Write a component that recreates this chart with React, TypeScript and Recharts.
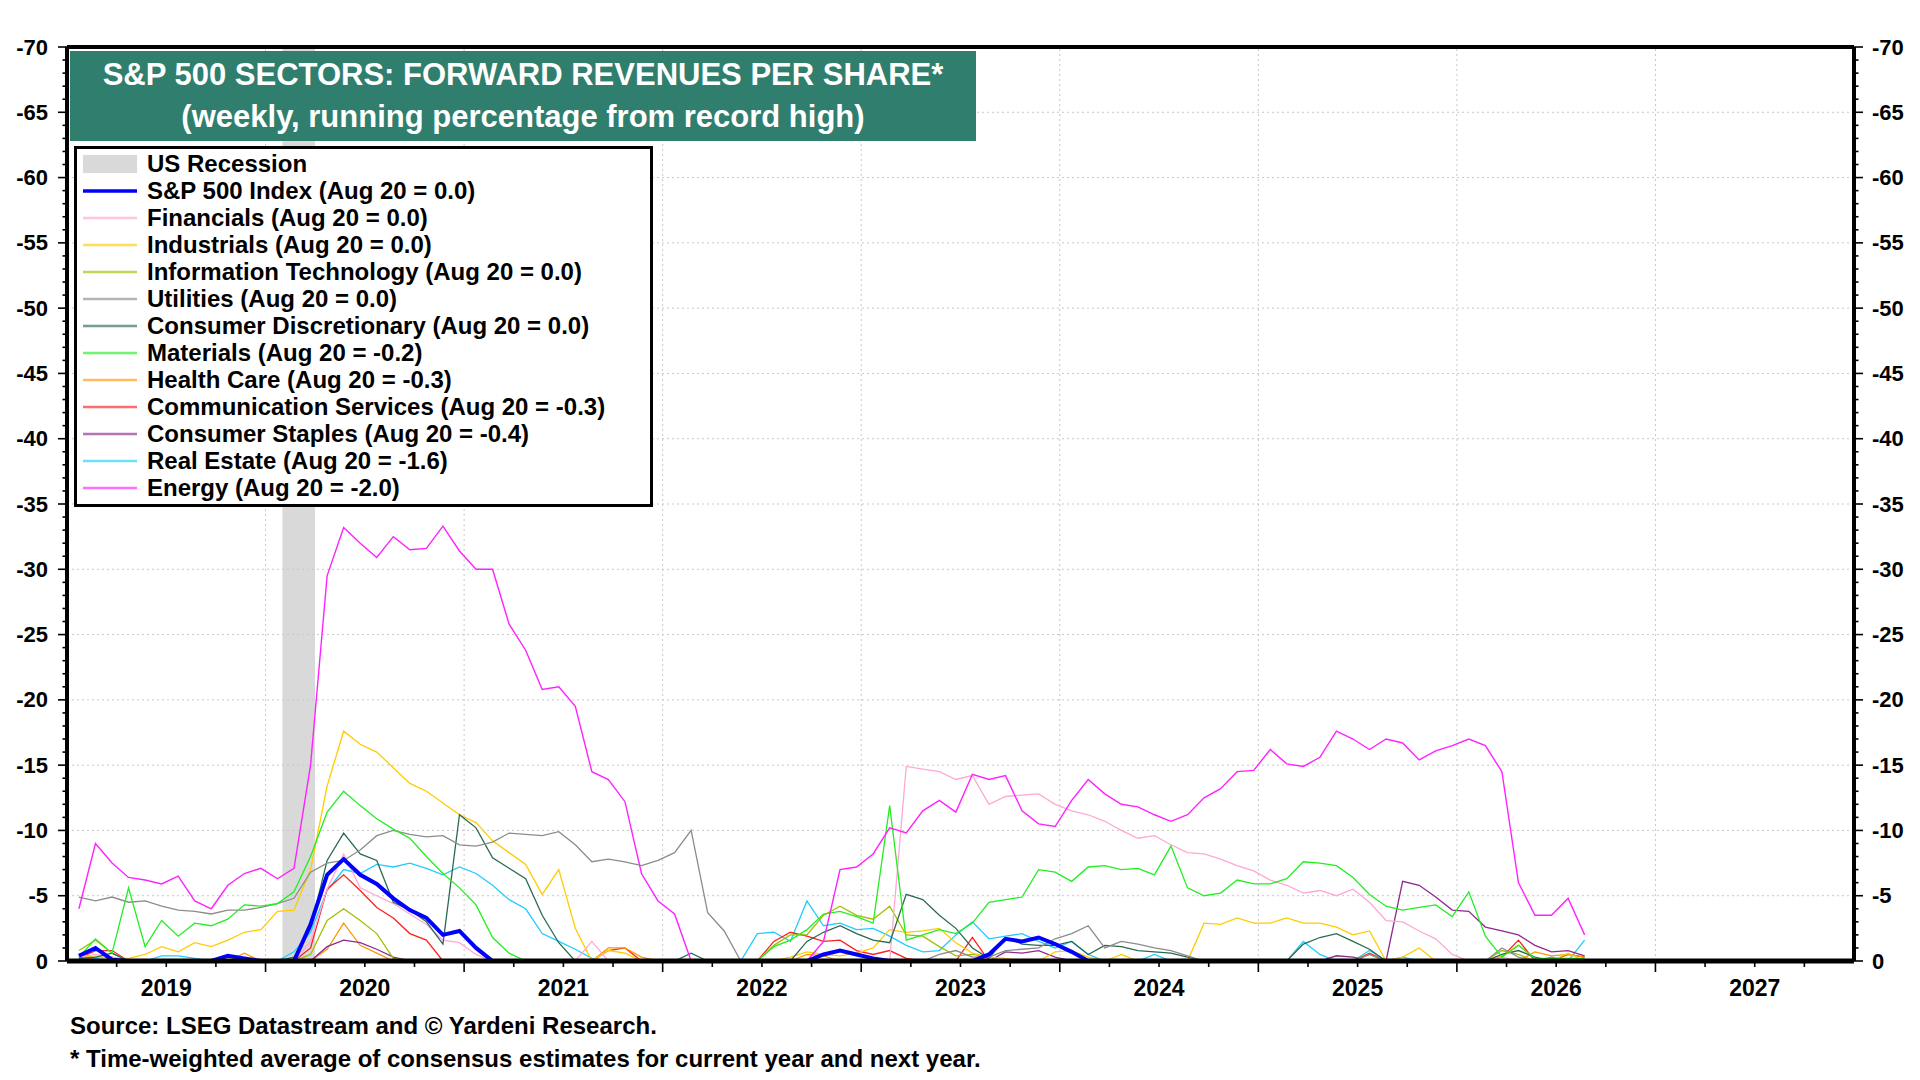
import React from 'react';
import { LineChart, Line, XAxis, YAxis, ReferenceLine, ReferenceArea } from 'recharts';

// one reading per month, first one at START (decimal year), last one = Aug 20 2026
const START = 2019.06;

// running % from record high
const sp500 = [
  -0.4, -1.0, -0.1, 0, 0, 0, 0, 0, 0, -0.4,
  -0.2, 0, 0, 0, -2.8, -6.6, -7.8, -6.6, -5.9, -4.8,
  -3.9, -3.3, -2.0, -2.3, -1.0, 0, 0, 0, 0, 0,
  0, 0, 0, 0, 0, 0, 0, 0, 0, 0,
  0, 0, 0, 0, 0, -0.5, -0.8, -0.5, -0.2, 0,
  0, 0, 0, 0, 0, -0.5, -1.7, -1.5, -1.8, -1.3,
  -0.7, 0, 0, 0, 0, 0, 0, 0, 0, 0,
  0, 0, 0, 0, 0, 0, 0, 0, 0, 0,
  0, 0, 0, 0, 0, 0, 0, 0, 0, 0,
  0, 0,
];
const financials = [
  -0.3, -0.5, -0.3, 0, 0, 0, 0, 0, 0, 0,
  0, 0, 0, 0, -1.5, -5.5, -8.2, -5.6, -5.0, -4.4,
  -3.6, -2.8, -1.6, -1.4, -0.5, 0, 0, 0, 0, 0,
  0, -1.5, 0, 0, 0, 0, 0, 0, 0, 0,
  0, 0, 0, 0, 0, 0, 0, 0, 0, 0,
  -14.9, -14.7, -14.5, -13.9, -14.2, -12.0, -12.6, -12.7, -12.8, -12.0,
  -11.5, -11.2, -10.7, -10.0, -9.4, -9.6, -8.9, -8.3, -8.2, -7.8,
  -7.3, -6.9, -6.2, -5.8, -5.2, -5.4, -5.0, -5.5, -4.5, -3.1,
  -3.0, -2.3, -1.7, -0.5, 0, 0, -0.3, 0, 0, 0,
  0, 0,
];
const industrials = [
  -0.4, -0.3, -0.2, -0.2, -0.5, -1.1, -0.7, -1.4, -1.1, -1.6,
  -2.2, -2.4, -3.8, -3.9, -7.0, -13.4, -17.6, -16.6, -16.0, -14.8,
  -13.6, -13.0, -12.1, -11.2, -10.6, -9.2, -8.3, -7.4, -5.1, -7.0,
  -2.5, 0, -0.8, -0.6, 0, 0, 0, 0, 0, 0,
  0, 0, 0, -0.3, -0.7, -0.5, -0.4, -0.6, -1.0, -2.4,
  -2.2, -2.3, -2.5, -1.4, -0.6, -0.3, -0.2, 0, 0, -0.7,
  -0.8, -0.3, 0, -0.5, 0, 0, 0, 0, -2.9, -2.8,
  -3.3, -2.9, -2.9, -3.3, -2.9, -2.9, -2.6, -2.0, -2.3, 0,
  -0.3, -1.0, 0, 0, 0, 0, -0.4, -1.2, -0.2, 0,
  -0.6, 0,
];
const infoTech = [
  -0.8, -1.6, -0.6, 0, 0, 0, 0, 0, 0, 0,
  0, 0, 0, 0, -0.5, -3.1, -4.0, -3.1, -2.1, -0.2,
  0, 0, 0, 0, 0, 0, 0, 0, 0, 0,
  0, 0, 0, 0, 0, 0, 0, 0, 0, 0,
  0, 0, -1.2, -2.0, -2.0, -3.5, -4.2, -3.5, -3.2, -4.2,
  -2.0, -1.9, -1.1, -0.4, -0.5, -0.3, 0, 0, 0, 0,
  0, 0, 0, 0, 0, 0, 0, 0, 0, 0,
  0, 0, 0, 0, 0, 0, 0, 0, 0, 0,
  0, 0, 0, 0, 0, 0, -0.8, -0.5, 0, 0,
  0, 0,
];
const utilities = [
  -4.9, -4.6, -4.9, -4.5, -4.6, -4.2, -3.9, -3.8, -3.6, -3.9,
  -3.9, -4.1, -4.4, -4.8, -6.8, -7.5, -7.7, -8.5, -9.6, -10.0,
  -9.7, -9.5, -9.6, -8.9, -8.8, -9.1, -9.8, -9.7, -9.6, -9.9,
  -8.9, -7.6, -7.8, -7.6, -7.3, -7.7, -8.3, -10.0, -3.7, -2.3,
  0, 0, 0, 0, 0, 0, 0, 0, 0, 0,
  0, 0, -0.5, -0.8, -0.3, -0.3, -0.8, -0.9, -1.0, -1.7,
  -2.1, -2.7, -1.0, -1.5, -1.3, -1.0, -0.8, -0.4, 0, 0,
  0, 0, 0, 0, 0, 0, 0, 0, -0.5, 0,
  0, 0, 0, 0, 0, 0, -1.0, -0.3, 0, -0.3,
  0, 0,
];
const consDisc = [
  -0.2, -0.3, -0.6, 0, 0, 0, 0, 0, 0, 0,
  0, 0, 0, -0.3, -2.5, -7.7, -9.8, -8.2, -7.7, -4.5,
  -3.9, -3.0, -1.3, -11.2, -10.2, -7.9, -7.1, -6.3, -3.5, -1.4,
  0, 0, 0, 0, 0, 0, 0, -0.6, 0, 0,
  0, 0, 0, 0, -1.5, -2.2, -2.7, -2.1, -1.6, -1.4,
  -5.1, -4.7, -3.5, -2.5, -1.0, -0.2, -1.8, -1.3, -1.2, -1.2,
  -1.5, -0.5, -1.2, -1.1, -0.8, -0.7, -0.6, -0.3, 0, 0,
  0, 0, 0, 0, -1.3, -1.8, -2.1, -1.5, -0.9, 0,
  0, 0, 0, 0, 0, 0, -0.5, -0.8, -0.3, 0,
  0, 0,
];
const materials = [
  -0.3, -1.7, -0.6, -5.6, -1.1, -3.1, -1.9, -2.9, -2.7, -3.2,
  -4.3, -4.2, -4.4, -5.3, -8.0, -11.4, -13.0, -11.9, -10.9, -10.1,
  -9.4, -8.0, -6.7, -5.6, -4.3, -1.8, -0.6, 0, 0, 0,
  0, 0, 0, 0, 0, 0, 0, 0, 0, 0,
  0, 0, -1.1, -1.6, -2.4, -3.6, -3.8, -3.4, -2.9, -11.9,
  -1.6, -2.0, -2.4, -2.1, -2.9, -4.5, -4.7, -4.9, -7.0, -6.8,
  -6.1, -7.2, -7.3, -7.0, -7.1, -6.6, -8.8, -5.6, -5.0, -5.2,
  -6.2, -5.9, -5.9, -6.3, -7.6, -7.5, -7.3, -6.4, -5.1, -4.2,
  -3.9, -4.1, -4.3, -3.4, -5.3, -1.9, -0.3, -1.2, -0.2, -0.2,
  -0.2, -0.2,
];
const healthCare = [
  0, -0.3, -0.3, 0, 0, 0, 0, 0, 0, 0,
  -0.6, 0, 0, 0, 0, -0.9, -2.9, -1.2, -0.6, 0,
  0, 0, 0, 0, 0, 0, 0, 0, 0, 0,
  0, 0, -1.0, -1.0, -0.3, 0, 0, 0, 0, 0,
  0, 0, 0, 0, -0.5, -0.4, 0, 0, 0, 0,
  0, 0, 0, 0, 0, 0, 0, 0, 0, 0,
  0, 0, 0, 0, 0, 0, 0, 0, 0, 0,
  0, 0, 0, 0, 0, 0, 0, 0, -0.5, 0,
  0, 0, 0, 0, 0, 0, 0, 0, -0.7, -0.4,
  -0.5, -0.3,
];
const commServices = [
  -0.2, -0.8, -0.8, 0, 0, 0, 0, 0, 0, 0,
  0, 0, 0, 0, -1.0, -5.5, -6.6, -5.4, -4.1, -3.3,
  -2.1, -1.6, 0, 0, 0, 0, 0, 0, 0, 0,
  0, 0, -0.8, -1.0, 0, 0, 0, 0, 0, 0,
  0, 0, -1.5, -2.2, -1.9, -1.5, -1.6, -0.8, -0.5, -0.8,
  -0.2, 0, 0, 0, -1.8, 0, 0, 0, 0, 0,
  0, 0, 0, 0, 0, 0, 0, 0, 0, 0,
  0, 0, 0, 0, 0, 0, 0, 0, -0.6, 0,
  0, 0, 0, 0, 0, 0, -0.3, -1.6, 0, 0,
  -0.5, -0.3,
];
const consStaples = [
  0, 0, 0, 0, 0, 0, 0, 0, 0, 0,
  0, 0, 0, 0, 0, -1.1, -1.6, -1.4, -0.9, -0.3,
  0, 0, 0, 0, 0, 0, 0, 0, 0, 0,
  0, 0, 0, 0, 0, 0, 0, 0, 0, 0,
  0, 0, 0, 0, 0, 0, 0, 0, 0, 0,
  0, 0, 0, 0, 0, 0, -0.7, -0.6, -0.8, -0.3,
  0, 0, 0, 0, 0, 0, 0, 0, 0, 0,
  0, 0, 0, 0, 0, 0, -0.4, -0.3, 0, 0,
  -6.1, -5.8, -4.9, -3.9, -3.8, -2.6, -2.3, -2.0, -1.2, -0.7,
  -0.8, -0.4,
];
const realEstate = [
  -0.2, -0.2, 0, 0, 0, -0.4, -0.4, -0.2, 0, 0,
  0, 0, 0, -0.7, -2.2, -5.4, -7.0, -6.7, -7.4, -7.2,
  -7.5, -7.1, -6.6, -7.2, -6.7, -5.8, -4.7, -4.0, -2.1, -1.5,
  -0.9, -0.2, 0, 0, 0, 0, 0, 0, 0, 0,
  0, -2.1, -2.2, -1.5, -4.6, -2.7, -2.9, -2.4, -2.5, -1.9,
  -1.2, -0.7, -0.8, -2.0, -3.0, -1.7, -1.9, -2.1, -1.5, -1.0,
  -1.5, -0.5, 0, 0, 0, -0.5, 0, 0, 0, 0,
  0, 0, 0, 0, -1.5, -0.5, 0, 0, -0.8, 0,
  -0.3, 0, 0, 0, 0, 0, 0, 0, 0, 0,
  0, -1.6,
];
const energy = [
  -4.0, -9.0, -7.5, -6.4, -6.2, -5.9, -6.5, -4.6, -4.0, -5.8,
  -6.7, -7.1, -6.3, -7.1, -15.0, -29.5, -33.2, -32.0, -30.9, -32.5,
  -31.5, -31.6, -33.3, -31.4, -30.0, -30.0, -25.8, -23.8, -20.8, -21.0,
  -19.5, -14.5, -13.9, -12.2, -6.7, -4.6, -3.6, 0, 0, 0,
  0, 0, 0, 0, 0, -1.5, -7.0, -7.2, -8.2, -10.2,
  -9.8, -11.5, -12.3, -11.4, -14.3, -13.9, -14.2, -11.5, -10.5, -10.3,
  -12.3, -13.9, -12.8, -12.0, -11.8, -11.2, -10.7, -11.2, -12.5, -13.2,
  -14.5, -14.6, -16.2, -15.1, -14.9, -15.6, -17.6, -17.0, -16.2, -17.0,
  -16.7, -15.4, -16.1, -16.5, -17.0, -16.5, -14.5, -6.0, -3.5, -3.5,
  -4.8, -2.0,
];

const years = [2019, 2020, 2021, 2022, 2023, 2024, 2025, 2026, 2027];
const yLabels = [-70, -65, -60, -55, -50, -45, -40, -35, -30, -25, -20, -15, -10, -5, 0];
const recession = { from: 2020.085, to: 2020.249 }; // Feb-Mar 2020

const series = [
  { key: 'sp', label: 'S&P 500 Index (Aug 20 = 0.0)', color: '#0000ff', width: 4, values: sp500 },
  { key: 'fin', label: 'Financials (Aug 20 = 0.0)', color: '#ffa8d4', width: 1.3, values: financials },
  { key: 'ind', label: 'Industrials (Aug 20 = 0.0)', color: '#ffcc00', width: 1.3, values: industrials },
  { key: 'it', label: 'Information Technology (Aug 20 = 0.0)', color: '#a0c000', width: 1.3, values: infoTech },
  { key: 'ut', label: 'Utilities (Aug 20 = 0.0)', color: '#8c8c8c', width: 1.3, values: utilities },
  { key: 'cd', label: 'Consumer Discretionary (Aug 20 = 0.0)', color: '#2a6a55', width: 1.3, values: consDisc },
  { key: 'ma', label: 'Materials (Aug 20 = -0.2)', color: '#22ee22', width: 1.3, values: materials },
  { key: 'hc', label: 'Health Care (Aug 20 = -0.3)', color: '#ff9900', width: 1.3, values: healthCare },
  { key: 'cs', label: 'Communication Services (Aug 20 = -0.3)', color: '#ff2020', width: 1.3, values: commServices },
  { key: 'st', label: 'Consumer Staples (Aug 20 = -0.4)', color: '#8e2a8e', width: 1.3, values: consStaples },
  { key: 're', label: 'Real Estate (Aug 20 = -1.6)', color: '#22ccff', width: 1.3, values: realEstate },
  { key: 'en', label: 'Energy (Aug 20 = -2.0)', color: '#ff22ff', width: 1.4, values: energy },
];
const drawOrder = ['re', 'cs', 'hc', 'st', 'it', 'ind', 'fin', 'cd', 'ut', 'ma', 'en', 'sp'];

const rows = energy.map((_, i) => {
  const r: Record<string, number> = { t: START + i / 12 };
  series.forEach((s) => { r[s.key] = s.values[i]; });
  return r;
});

const xTicks: number[] = [];
years.forEach((y) => [0, 0.25, 0.5, 0.75].forEach((q) => { if (y + q > years[0]) xTicks.push(y + q); }));
const yTicks: number[] = [];
for (let v = yLabels[0]; v <= 0; v++) yTicks.push(v);

const FONT = '"Liberation Sans", Arial, Helvetica, sans-serif';

const LeftTick = ({ x, y, payload }: any) => {
  const v = payload.value;
  const major = v % 5 === 0;
  return (
    <g>
      <line x1={x} x2={x - (major ? 9 : 4.5)} y1={y} y2={y} stroke="#000" strokeWidth={1.6} />
      {major && (
        <text x={x - 19} y={y} textAnchor="end" dominantBaseline="central"
          fontFamily={FONT} fontSize={22} fontWeight="bold" fill="#000">{v}</text>
      )}
    </g>
  );
};

const RightTick = ({ x, y, payload }: any) => {
  const v = payload.value;
  const major = v % 5 === 0;
  return (
    <g>
      <line x1={x} x2={x + (major ? 9 : 4.5)} y1={y} y2={y} stroke="#000" strokeWidth={1.6} />
      {major && (
        <text x={x + 18} y={y} textAnchor="start" dominantBaseline="central"
          fontFamily={FONT} fontSize={22} fontWeight="bold" fill="#000">{v}</text>
      )}
    </g>
  );
};

const BottomTick = ({ x, y, payload }: any) => {
  const v = payload.value;
  const frac = v - Math.floor(v);
  const major = frac < 1e-6;
  const mid = Math.abs(frac - 0.5) < 1e-6;
  return (
    <g>
      <line x1={x} x2={x} y1={y} y2={y + (major ? 11 : 6)} stroke="#000" strokeWidth={1.6} />
      {mid && (
        <text x={x} y={y + 27} textAnchor="middle" dominantBaseline="central"
          fontFamily={FONT} fontSize={23} fontWeight="bold" fill="#000">{Math.floor(v)}</text>
      )}
    </g>
  );
};

const ChartTitle = () => (
  <div style={{ position: 'absolute', left: 70, top: 51, width: 906, height: 90, background: '#2f7e6e',
    color: '#fff', fontFamily: FONT, fontWeight: 'bold', fontSize: 31, textAlign: 'center' }}>
    <div style={{ position: 'absolute', left: 0, right: 0, top: 6, lineHeight: '36px', whiteSpace: 'nowrap' }}>
      S&amp;P 500 SECTORS: FORWARD REVENUES PER SHARE*
    </div>
    <div style={{ position: 'absolute', left: 0, right: 0, top: 48, lineHeight: '36px', whiteSpace: 'nowrap' }}>
      (weekly, running percentage from record high)
    </div>
  </div>
);

const LegendBox = () => (
  <div style={{ position: 'absolute', left: 74, top: 146, width: 573, height: 355, border: '3px solid #000',
    background: '#fff', fontFamily: FONT, fontWeight: 'bold', fontSize: 24, color: '#000' }}>
    {[{ key: 'rec', label: 'US Recession', color: '#d9d9d9', width: 0 }, ...series].map((s, i) => (
      <div key={s.key} style={{ position: 'absolute', left: 6, top: 2 + i * 27, height: 26, display: 'flex',
        alignItems: 'center', whiteSpace: 'nowrap' }}>
        <svg width={54} height={20} style={{ marginRight: 10 }}>
          {s.key === 'rec'
            ? <rect x={0} y={1} width={54} height={18} fill={s.color} />
            : <line x1={0} x2={54} y1={10} y2={10} stroke={s.color}
                strokeWidth={s.key === 'sp' ? 3.5 : 2.5} strokeOpacity={s.key === 'sp' ? 1 : 0.65} />}
        </svg>
        <span>{s.label}</span>
      </div>
    ))}
  </div>
);

export default function App() {
  return (
    <div style={{ position: 'absolute', left: 0, top: 0, width: 1920, height: 1080, background: '#fff' }}>
      <LineChart width={1920} height={1080} data={rows} margin={{ top: 47, right: 0, bottom: 0, left: 0 }}>
        <XAxis dataKey="t" type="number" domain={[2019, 2028]} allowDataOverflow ticks={xTicks} interval={0}
          height={119} tickSize={0} tickMargin={0} tick={<BottomTick />}
          axisLine={{ stroke: '#000', strokeWidth: 5 }} />
        <YAxis yAxisId="left" orientation="left" type="number" domain={[-70, 0]} reversed allowDataOverflow
          ticks={yTicks} interval={0} width={67} tickSize={0} tickMargin={0} tick={<LeftTick />}
          axisLine={{ stroke: '#000', strokeWidth: 4 }} />
        <YAxis yAxisId="right" orientation="right" type="number" domain={[-70, 0]} reversed allowDataOverflow
          ticks={yTicks} interval={0} width={66} tickSize={0} tickMargin={0} tick={<RightTick />}
          axisLine={{ stroke: '#000', strokeWidth: 4 }} />

        <ReferenceArea yAxisId="left" x1={recession.from} x2={recession.to} fill="#d9d9d9" fillOpacity={1}
          stroke="none" />
        {yLabels.filter((v) => v > -70 && v < 0).map((v) => (
          <ReferenceLine key={'gy' + v} yAxisId="left" y={v} stroke="#c8c8c8" strokeDasharray="2 3" />
        ))}
        {years.slice(1).map((y) => (
          <ReferenceLine key={'gx' + y} yAxisId="left" x={y} stroke="#c8c8c8" strokeDasharray="2 3" />
        ))}
        <ReferenceLine yAxisId="left" y={-70} stroke="#000" strokeWidth={4} />

        {drawOrder.map((k) => {
          const s = series.find((q) => q.key === k)!;
          return (
            <Line key={k} yAxisId="left" type="linear" dataKey={k} stroke={s.color} strokeWidth={s.width}
              dot={false} activeDot={false} isAnimationActive={false} />
          );
        })}
      </LineChart>

      <ChartTitle />
      <LegendBox />

      <div style={{ position: 'absolute', left: 70, top: 1013, lineHeight: '26px', fontFamily: FONT,
        fontWeight: 'bold', fontSize: 24, color: '#000', whiteSpace: 'nowrap' }}>
        Source: LSEG Datastream and © Yardeni Research.
      </div>
      <div style={{ position: 'absolute', left: 70, top: 1046, lineHeight: '26px', fontFamily: FONT,
        fontWeight: 'bold', fontSize: 24, color: '#000', whiteSpace: 'nowrap' }}>
        * Time-weighted average of consensus estimates for current year and next year.
      </div>
    </div>
  );
}
